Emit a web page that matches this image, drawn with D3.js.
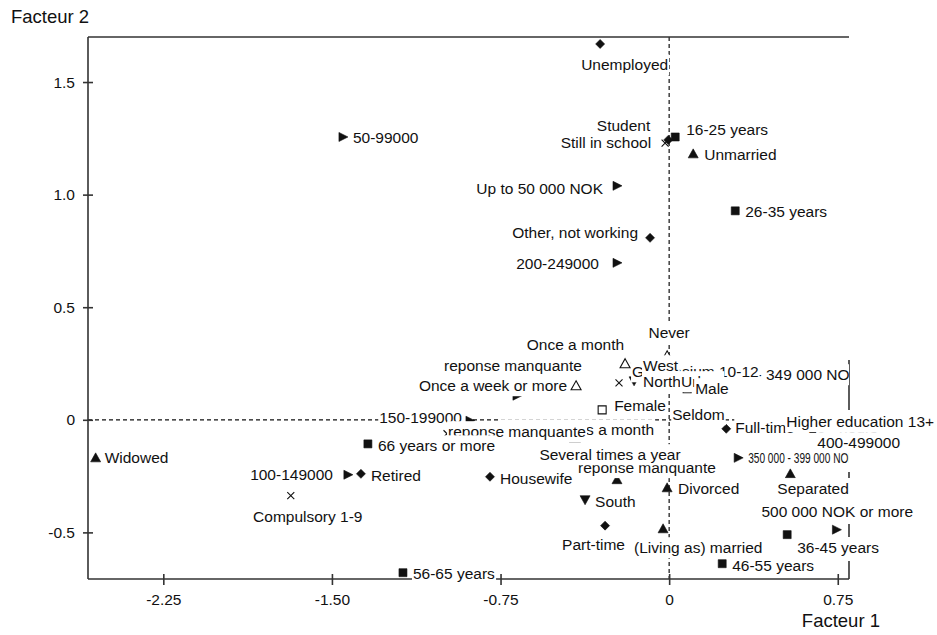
<!DOCTYPE html>
<html>
<head>
<meta charset="utf-8">
<script src="https://cdn.jsdelivr.net/npm/d3@7"></script>
<style>
body { margin: 0; background: #fff; }
text { font-family: Arial, "Liberation Sans", sans-serif; fill: #111; }
</style>
</head>
<body>
<svg id="chart"></svg>
<script>
let width = 937;
let height = 635;
let margin = {"top": 37, "right": 88, "bottom": 56, "left": 88};

// points of the correspondence map (label draw order matters: later labels cover earlier ones)
const pointLabels = [
    "Unemployed", "Student", "Still in school", "16-25 years", "Unmarried",
    "Up to 50 000 NOK", "26-35 years", "Other, not working", "200-249000", "50-99000",
    "Never", "Once a month", "reponse manquante", "Once a week or more",
    "300 000 - 349 000 NOK", "Gymnasium 10-12", "West", "North", "Urban", "Male",
    "Female", "150-199000", "Several times a month", "reponse manquante",
    "Full-time - 25+ hours", "Seldom", "Higher education 13+",
    "350 000 - 399 000 NOK", "400-499000", "reponse manquante", "Several times a year",
    "Housewife", "South", "Divorced", "Separated", "Part-time", "(Living as) married",
    "500 000 NOK or more", "36-45 years", "46-55 years", "56-65 years", "66 years or more",
    "Retired", "100-149000", "Compulsory 1-9", "Widowed"
];
const factor1 = [
    -0.307, -0.004, -0.018, 0.027, 0.107,
    -0.232, 0.294, -0.085, -0.232, -1.451,
    -0.009, -0.196, -0.677, -0.414,
    0.098, -0.223, -0.147, -0.156, 0.013, 0.080,
    -0.298, -0.886, -0.419, -0.988,
    0.254, 0.107, 0.481,
    0.307, 0.619, -0.232, -0.263,
    -0.797, -0.374, -0.009, 0.539, -0.285, -0.027,
    0.744, 0.525, 0.236, -1.184, -1.340,
    -1.371, -1.429, -1.683, -2.551
];
const factor2 = [
    1.669, 1.243, 1.229, 1.256, 1.181,
    1.039, 0.928, 0.808, 0.697, 1.256,
    0.284, 0.249, 0.107, 0.151,
    0.191, 0.164, 0.235, 0.173, 0.169, 0.138,
    0.044, -0.004, -0.080, -0.062,
    -0.040, 0.018, -0.022,
    -0.169, -0.164, -0.266, -0.142,
    -0.253, -0.355, -0.302, -0.240, -0.470, -0.484,
    -0.488, -0.510, -0.639, -0.679, -0.107,
    -0.240, -0.244, -0.337, -0.169
];
const pointGroups = [
    "employment", "employment", "education", "age", "marital",
    "income", "age", "employment", "income", "income",
    "frequency", "frequency", "income", "frequency",
    "income", "education", "region", "region", "region", "gender",
    "gender", "income", "frequency", "education",
    "employment", "frequency", "education",
    "income", "income", "marital", "frequency",
    "employment", "region", "marital", "marital", "employment", "marital",
    "income", "age", "age", "age", "age",
    "employment", "income", "education", "marital"
];

const xTicks = [-2.25, -1.5, -0.75, 0, 0.75];
const xTickLabels = ["-2.25", "-1.50", "-0.75", "0", "0.75"];
const yTicks = [-0.5, 0, 0.5, 1.0, 1.5];
const yTickLabels = ["-0.5", "0", "0.5", "1.0", "1.5"];

// label layout next to each marker: [anchor, dx, dy, clipped at frame, squeezed length]
const labelPlace = [
    ["start", -19, 21], ["end", -18, -14], ["end", -14, 0], ["start", 11, -7], ["start", 11, 1],
    ["end", -14, 3], ["start", 10, 1], ["end", -12, -5], ["end", -18, 1], ["start", 10, 1],
    ["middle", 2, -23], ["end", -1, -19], ["middle", -4, -30], ["end", -9, 0],
    ["start", 5, -2, true], ["start", 13, -11], ["start", 7, -1], ["start", 9, 1], ["start", 9, 0], ["start", 8, 0],
    ["start", 12, -4], ["end", -8, -3], ["start", -75, -8], ["start", 1, -2],
    ["start", 9, -1], ["start", -21, -1], ["start", 9, -3],
    ["start", 10, 0, true, 107], ["start", 9, -14], ["start", -39, -12], ["middle", 0, 3],
    ["start", 10, 2], ["start", 10, 2], ["start", 11, 1], ["start", -13, 15], ["start", -43, 19], ["start", -29, 19],
    ["start", -75, -18], ["start", 10, 13], ["start", 10, 2], ["start", 10, 1], ["start", 10, 2],
    ["start", 10, 2], ["end", -15, 0], ["middle", 17, 21], ["start", 9, 0]
];

const shapes = {
    "age": "M-4,-4L4,-4L4,4L-4,4Z",
    "gender": "M-4,-4L4,-4L4,4L-4,4Z",
    "marital": "M0,-5L5,4L-5,4Z",
    "frequency": "M0,-5L5,4L-5,4Z",
    "employment": "M0,-4.5L4.5,0L0,4.5L-4.5,0Z",
    "income": "M-4,-4.5L5,0L-4,4.5Z",
    "region": "M-5,-4L5,-4L0,5Z",
    "education": "M-3.5,-3.5L3.5,3.5M-3.5,3.5L3.5,-3.5"
};
const hollow = {"gender": true, "frequency": true, "education": true};

let svg = d3.select("#chart")
    .attr("width", width)
    .attr("height", height);

let x = d3.scaleLinear()
    .domain([-2.585, 0.80])
    .range([margin.left, width - margin.right]);
let y = d3.scaleLinear()
    .domain([-0.707, 1.70])
    .range([height - margin.bottom, margin.top]);

let x0 = margin.left, x1 = width - margin.right;
let y0 = margin.top, y1 = height - margin.bottom;

svg.append("defs").append("clipPath").attr("id", "frameclip")
    .append("rect").attr("x", 0).attr("y", 0).attr("width", x1).attr("height", height);

// zero lines
svg.append("line")
    .attr("x1", x(0)).attr("x2", x(0)).attr("y1", y0).attr("y2", y1)
    .attr("stroke", "#111").attr("stroke-width", 1.2).attr("stroke-dasharray", "4,3");
svg.append("line")
    .attr("x1", x0).attr("x2", x1).attr("y1", y(0)).attr("y2", y(0))
    .attr("stroke", "#111").attr("stroke-width", 1.2).attr("stroke-dasharray", "4,3");

// frame
let frame = svg.append("g").attr("stroke", "#333").attr("stroke-width", 1.6);
frame.append("line").attr("x1", x0).attr("x2", x0).attr("y1", y0).attr("y2", y1);
frame.append("line").attr("x1", x0).attr("x2", x1).attr("y1", y1).attr("y2", y1);
frame.append("line").attr("x1", x0).attr("x2", x1).attr("y1", y0).attr("y2", y0);
// right edge only shows in pieces in the original
[[360, 410], [472, 478], [524, 537], [561, 579]].forEach(function(s) {
    frame.append("line").attr("x1", x1).attr("x2", x1).attr("y1", s[0]).attr("y2", s[1]);
});

// axes
let yAxis = d3.axisLeft(y)
    .tickValues(yTicks)
    .tickFormat((d, i) => yTickLabels[i])
    .tickSize(5)
    .tickPadding(8);
let gy = svg.append("g").attr("transform", `translate(${x0},0)`).call(yAxis);

let xAxis = d3.axisBottom(x)
    .tickValues(xTicks)
    .tickFormat((d, i) => xTickLabels[i])
    .tickSize(6)
    .tickPadding(9);
let gx = svg.append("g").attr("transform", `translate(0,${y1})`).call(xAxis);

[gx, gy].forEach(function(g) {
    g.select(".domain").remove();
    g.selectAll(".tick line").attr("stroke", "#333").attr("stroke-width", 1.6);
    g.selectAll(".tick text")
        .style("font-family", "Arial, 'Liberation Sans', sans-serif")
        .style("font-size", "15.5px")
        .attr("fill", "#111");
});
gy.selectAll(".tick line").attr("x1", 5);
gx.selectAll(".tick line").attr("y1", -5);

// axis titles
svg.append("text").attr("x", 11).attr("y", 23)
    .style("font-size", "18.5px").text("Facteur 2");
svg.append("text").attr("x", 880).attr("y", 627).attr("text-anchor", "end")
    .style("font-size", "18.5px").text("Facteur 1");

let points = pointLabels.map(function(label, i) {
    return {label: label, f1: factor1[i], f2: factor2[i], group: pointGroups[i], place: labelPlace[i]};
});

// markers first
svg.append("g").selectAll("path")
    .data(points)
    .enter().append("path")
    .attr("transform", (d) => `translate(${x(d.f1)},${y(d.f2)})`)
    .attr("d", (d) => shapes[d.group])
    .attr("fill", (d) => d.group == "education" ? "none" : (hollow[d.group] ? "#fff" : "#111"))
    .attr("stroke", "#111")
    .attr("stroke-width", (d) => hollow[d.group] ? 1.1 : 0.6);

// labels with opaque background, in order
let labels = svg.append("g");
points.forEach(function(d) {
    let p = d.place;
    let g = labels.append("g");
    if (p[3]) g.attr("clip-path", "url(#frameclip)");
    let t = g.append("text")
        .attr("x", x(d.f1) + p[1])
        .attr("y", y(d.f2) + p[2])
        .attr("dy", "0.35em")
        .attr("text-anchor", p[0])
        .style("font-size", "15.5px")
        .text(d.label);
    if (p[4]) t.attr("textLength", p[4]).attr("lengthAdjust", "spacingAndGlyphs");
    let bb = t.node().getBBox();
    g.insert("rect", "text")
        .attr("x", bb.x - 1)
        .attr("y", bb.y - 2)
        .attr("width", bb.width + 2)
        .attr("height", bb.height + 4)
        .attr("fill", "#fff");
});
</script>
</body>
</html>
